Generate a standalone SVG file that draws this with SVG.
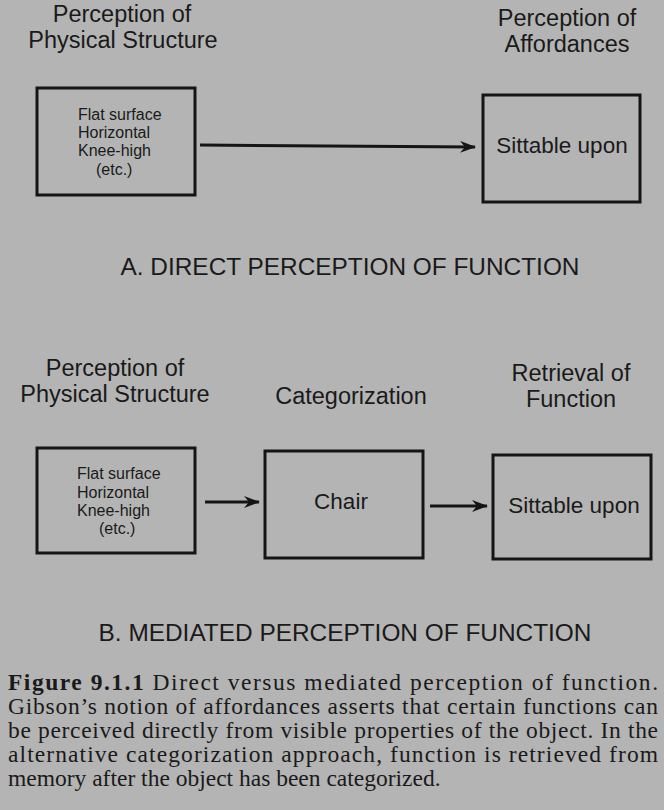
<svg xmlns="http://www.w3.org/2000/svg" width="664" height="810" viewBox="0 0 664 810">
<defs>
<style>
.bg{fill:#b4b4b4}
.box{fill:none;stroke:#151515;stroke-width:3}
.hd{font-family:"Liberation Sans",Arial,sans-serif;font-size:23.5px;fill:#1a1a1a;text-anchor:middle}
.sm{font-family:"Liberation Sans",Arial,sans-serif;font-size:16px;fill:#1a1a1a}
.md{font-family:"Liberation Sans",Arial,sans-serif;font-size:22.5px;fill:#1a1a1a;text-anchor:middle}
.ttl{font-family:"Liberation Sans",Arial,sans-serif;font-size:24.4px;fill:#1a1a1a;text-anchor:middle}
.cap{font-family:"Liberation Serif","Times New Roman",serif;font-size:23.5px;fill:#1a1a1a}
.con{stroke:#151515;stroke-width:3;fill:none}
</style>
<marker id="ah" viewBox="0 0 16 12" refX="15" refY="6" markerWidth="16" markerHeight="12" markerUnits="userSpaceOnUse" orient="auto">
<path d="M0,0 L16,6 L0,12 L5,6 Z" fill="#151515"/>
</marker>
</defs>
<rect class="bg" x="0" y="0" width="664" height="810"/>

<g id="headers">
<text class="hd" x="122" y="22">Perception of</text>
<text class="hd" x="123" y="48">Physical Structure</text>
<text class="hd" x="567" y="26">Perception of</text>
<text class="hd" x="567" y="52">Affordances</text>
<text class="hd" x="115" y="376">Perception of</text>
<text class="hd" x="115" y="402">Physical Structure</text>
<text class="hd" x="351" y="404">Categorization</text>
<text class="hd" x="571" y="381">Retrieval of</text>
<text class="hd" x="571" y="407">Function</text>
</g>

<g id="a-structure">
<rect class="box" x="37" y="88" width="158" height="107"/>
<text class="sm" x="78" y="120">Flat surface</text>
<text class="sm" x="78" y="138">Horizontal</text>
<text class="sm" x="78" y="156">Knee-high</text>
<text class="sm" x="96" y="175">(etc.)</text>
</g>

<g id="a-affordance">
<rect class="box" x="483" y="95" width="157" height="107"/>
<text class="md" x="562" y="153">Sittable upon</text>
</g>

<g id="b-structure">
<rect class="box" x="37" y="448" width="158" height="105"/>
<text class="sm" x="77" y="479">Flat surface</text>
<text class="sm" x="77" y="498">Horizontal</text>
<text class="sm" x="77" y="516">Knee-high</text>
<text class="sm" x="99" y="534">(etc.)</text>
</g>

<g id="b-category">
<rect class="box" x="265" y="451" width="158" height="107"/>
<text class="md" x="341" y="509">Chair</text>
</g>

<g id="b-function">
<rect class="box" x="493" y="455" width="158" height="104"/>
<text class="md" x="574" y="513">Sittable upon</text>
</g>

<g id="connectors">
<line class="con" x1="200" y1="145" x2="475" y2="147" marker-end="url(#ah)"/>
<line class="con" x1="205" y1="502" x2="259" y2="502" marker-end="url(#ah)"/>
<line class="con" x1="430" y1="506" x2="487" y2="506" marker-end="url(#ah)"/>
</g>

<g id="titles">
<text class="ttl" x="350" y="275">A. DIRECT PERCEPTION OF FUNCTION</text>
<text class="ttl" x="345" y="641">B. MEDIATED PERCEPTION OF FUNCTION</text>
</g>

<g id="caption">
<text class="cap" x="8" y="690" textLength="650" lengthAdjust="spacing"><tspan font-weight="bold">Figure 9.1.1</tspan>   Direct versus mediated perception of function.</text>
<text class="cap" x="8" y="714" textLength="650" lengthAdjust="spacing">Gibson’s notion of affordances asserts that certain functions can</text>
<text class="cap" x="8" y="738" textLength="650" lengthAdjust="spacing">be perceived directly from visible properties of the object. In the</text>
<text class="cap" x="8" y="762" textLength="650" lengthAdjust="spacing">alternative categorization approach, function is retrieved from</text>
<text class="cap" x="8" y="786">memory after the object has been categorized.</text>
</g>
</svg>
